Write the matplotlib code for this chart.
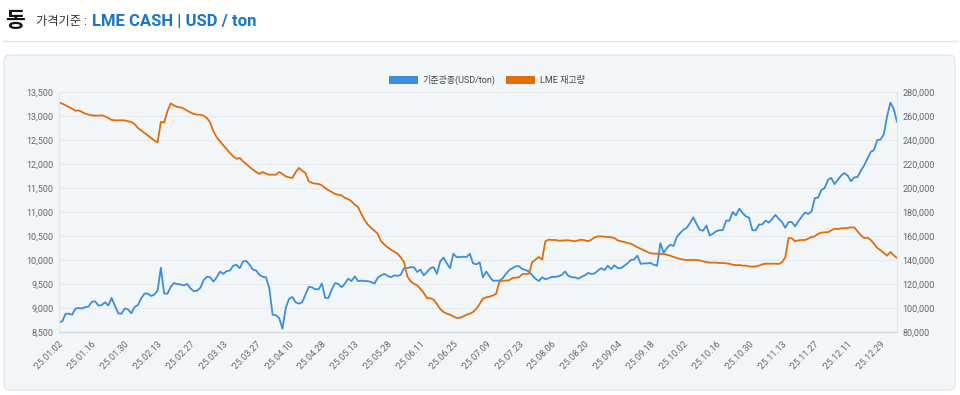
import matplotlib
matplotlib.use("Agg")
import matplotlib.pyplot as plt
import pandas as pd
from matplotlib.patches import Patch, FancyBboxPatch
from matplotlib.lines import Line2D
from matplotlib.ticker import FuncFormatter, MultipleLocator
from matplotlib.transforms import IdentityTransform

plt.rcParams["font.family"] = ["Roboto", "Noto Sans CJK KR", "DejaVu Sans"]

# trading days (LME, UK holidays removed)
holidays = ["2025-01-01", "2025-04-18", "2025-04-21", "2025-05-05", "2025-05-26",
            "2025-08-25", "2025-12-25", "2025-12-26", "2026-01-01"]
dates = [d for d in pd.bdate_range("2025-01-02", "2026-01-06")
         if d.strftime("%Y-%m-%d") not in holidays]
date_labels = [d.strftime("'%y.%m.%d") for d in dates]

# copper LME cash price (USD/ton)
price = [
    8709, 8722, 8880, 8880, 8860, 8985, 9000, 8990, 9020, 9030,
    9130, 9140, 9050, 9060, 9120, 9050, 9210, 9050, 8890, 8880,
    8990, 8970, 8890, 9020, 9060, 9200, 9300, 9300, 9250, 9280,
    9360, 9840, 9300, 9300, 9440, 9520, 9500, 9490, 9470, 9500,
    9410, 9350, 9360, 9420, 9580, 9650, 9640, 9550, 9640, 9760,
    9710, 9770, 9780, 9880, 9900, 9830, 9970, 9980, 9900, 9800,
    9780, 9690, 9650, 9640, 9410, 8860, 8850, 8790, 8570, 9000,
    9190, 9230, 9120, 9090, 9120, 9280, 9440, 9430, 9390, 9390,
    9510, 9210, 9210, 9390, 9520, 9500, 9430, 9510, 9610, 9560,
    9660, 9560, 9570, 9560, 9560, 9540, 9510, 9630, 9680, 9710,
    9670, 9640, 9680, 9670, 9690, 9830, 9830, 9850, 9850, 9750,
    9800, 9680, 9750, 9830, 9850, 9710, 9970, 10050, 9930, 9830,
    10130, 10060, 10060, 10070, 10060, 10130, 9930, 9910, 9950, 9640,
    9760, 9660, 9570, 9570, 9570, 9620, 9710, 9790, 9830, 9870,
    9870, 9810, 9790, 9760, 9680, 9610, 9560, 9640, 9600, 9620,
    9650, 9650, 9660, 9690, 9760, 9670, 9640, 9640, 9610, 9650,
    9680, 9730, 9710, 9720, 9780, 9830, 9790, 9880, 9810, 9890,
    9830, 9830, 9880, 9930, 10000, 10010, 10090, 9920, 9930, 9930,
    9940, 9900, 9880, 10350, 10150, 10250, 10320, 10290, 10480, 10560,
    10630, 10670, 10770, 10890, 10750, 10630, 10610, 10720, 10510, 10550,
    10600, 10620, 10620, 10820, 10820, 11000, 10930, 11070, 10980, 10910,
    10880, 10620, 10620, 10740, 10740, 10820, 10780, 10850, 10940, 10860,
    10790, 10670, 10790, 10790, 10700, 10810, 10900, 10990, 10960, 11010,
    11290, 11300, 11460, 11500, 11670, 11710, 11580, 11670, 11760, 11810,
    11760, 11640, 11720, 11730, 11860, 11970, 12110, 12250, 12290, 12500,
    12510, 12620, 13000, 13280, 13150, 12880,
]

# LME warehouse stock (ton)
stock = [
    271400, 270300, 268900, 267500, 266100, 264400, 264700, 263300, 261900, 261100,
    260600, 260300, 260300, 260600, 259700, 258300, 256700, 256400, 256400, 256400,
    256400, 255600, 255000, 253300, 250000, 248100, 245800, 243900, 241700, 239700,
    238000, 255000, 254500, 264000, 270500, 268800, 267500, 267200, 266100, 264400,
    263100, 261700, 261100, 261100, 260300, 258300, 254700, 247200, 242200, 238900,
    235600, 232400, 229200, 226400, 224400, 225000, 222200, 220000, 217500, 215300,
    213300, 211700, 213300, 211900, 211100, 211100, 211100, 213300, 211700, 209700,
    208900, 208300, 213100, 216700, 214400, 212500, 205600, 204200, 203600, 203400,
    202200, 200000, 198100, 196700, 195000, 194400, 193900, 191700, 190800, 188900,
    186100, 184200, 178300, 173100, 169400, 166700, 164400, 161700, 155600, 152800,
    150600, 148600, 147000, 145300, 142200, 138300, 126400, 122200, 120300, 118900,
    115800, 112500, 108300, 108100, 106900, 103300, 99200, 96700, 95300, 94400,
    93000, 91700, 91900, 93000, 94400, 95300, 96700, 99400, 103300, 107800,
    108900, 109400, 110500, 111700, 121700, 122800, 122800, 123100, 125000, 125300,
    125600, 128300, 128300, 128600, 138300, 140300, 142500, 140300, 155600, 156900,
    156700, 156700, 156100, 156100, 156400, 156400, 156100, 155600, 156400, 156900,
    156400, 155600, 156900, 158900, 159700, 159700, 159400, 159200, 158900, 158300,
    156400, 155600, 155000, 154200, 153600, 152200, 150600, 149400, 148100, 146700,
    145600, 145300, 145300, 145000, 145000, 144400, 143600, 142500, 141700, 140800,
    140300, 140000, 140000, 140000, 140000, 139700, 138900, 138300, 137800, 137800,
    137800, 137500, 137500, 137200, 136900, 136100, 135600, 135800, 135300, 135300,
    134700, 134400, 134700, 135300, 136400, 136900, 136900, 136900, 136900, 136700,
    138100, 142200, 158300, 158100, 155600, 156400, 156700, 156700, 157800, 159200,
    159700, 161900, 162800, 163100, 163100, 164700, 166100, 165800, 166400, 166400,
    166700, 167200, 167200, 163900, 160600, 158300, 158600, 156700, 153600, 150000,
    148100, 145800, 143600, 146700, 143900, 141700,
]

series_names = ["기준광종(USD/ton)", "LME 재고량"]
blue = "#3b8ede"
orange = "#e36c0a"
grid_c = "#e6e9ed"
text_c = "#666666"

fig = plt.figure(figsize=(9.6, 3.95), dpi=100)
fig.patch.set_facecolor("white")

# header
fig.text(5 / 960, 1 - 21 / 395, "동", fontsize=15.5, fontweight="bold", va="center", color="#111111")
fig.text(36 / 960, 1 - 22 / 395, "가격기준 :", fontsize=8.8, va="center", color="#333333")
fig.text(92 / 960, 1 - 22 / 395, "LME CASH | USD / ton", fontsize=12, fontweight="bold",
         va="center", color="#1877c9")
fig.lines.append(Line2D([3 / 960, 957 / 960], [1 - 41 / 395, 1 - 41 / 395],
                        transform=fig.transFigure, color="#e4e4e4", lw=1))

# panel background (behind the axes)
panel = FancyBboxPatch((4, 5), 951, 335, boxstyle="round,pad=0,rounding_size=6",
                       transform=IdentityTransform(), facecolor="#f3f6f9",
                       edgecolor="#dde3e8", lw=0.8, zorder=-5)
fig.patches.append(panel)

ax = fig.add_axes([59 / 960, 63 / 395, 838 / 960, 240 / 395])
ax.set_facecolor("none")
ax2 = ax.twinx()

x = list(range(len(dates)))
ax.plot(x, price, color=blue, lw=1.3)
ax2.plot(x, stock, color=orange, lw=1.3)

ax.set_xlim(0, len(dates) - 1)
ax.set_ylim(8500, 13500)
ax2.set_ylim(80000, 280000)
ax.yaxis.set_major_locator(MultipleLocator(500))
ax2.yaxis.set_major_locator(MultipleLocator(20000))
fmt = FuncFormatter(lambda v, p: f"{v:,.0f}")
ax.yaxis.set_major_formatter(fmt)
ax2.yaxis.set_major_formatter(fmt)

tick_idx = list(range(0, len(dates), 10))
ax.set_xticks(tick_idx)
ax.set_xticklabels([date_labels[i] for i in tick_idx], rotation=45, ha="right",
                   rotation_mode="anchor")

ax.grid(axis="y", color=grid_c, lw=0.8)
ax.set_axisbelow(True)
for a in (ax, ax2):
    a.tick_params(length=0, labelsize=6.5, colors=text_c)
    a.spines["top"].set_visible(False)
    a.spines["left"].set_color("#e2e6ea")
    a.spines["right"].set_color("#e2e6ea")
    a.spines["bottom"].set_color("#d4d8dc")
ax.tick_params(axis="x", pad=5)
ax.tick_params(axis="y", pad=4)
ax2.tick_params(axis="y", pad=4)

handles = [Patch(facecolor=blue, edgecolor="none"), Patch(facecolor=orange, edgecolor="none")]
fig.legend(handles, series_names, loc="center", bbox_to_anchor=(487 / 960, 1 - 80 / 395),
           ncol=2, frameon=False, fontsize=6.5, handlelength=3.2, handleheight=1.0,
           handletextpad=0.5, columnspacing=1.2, labelcolor="#444444")

fig.savefig("out.png", dpi=100)
